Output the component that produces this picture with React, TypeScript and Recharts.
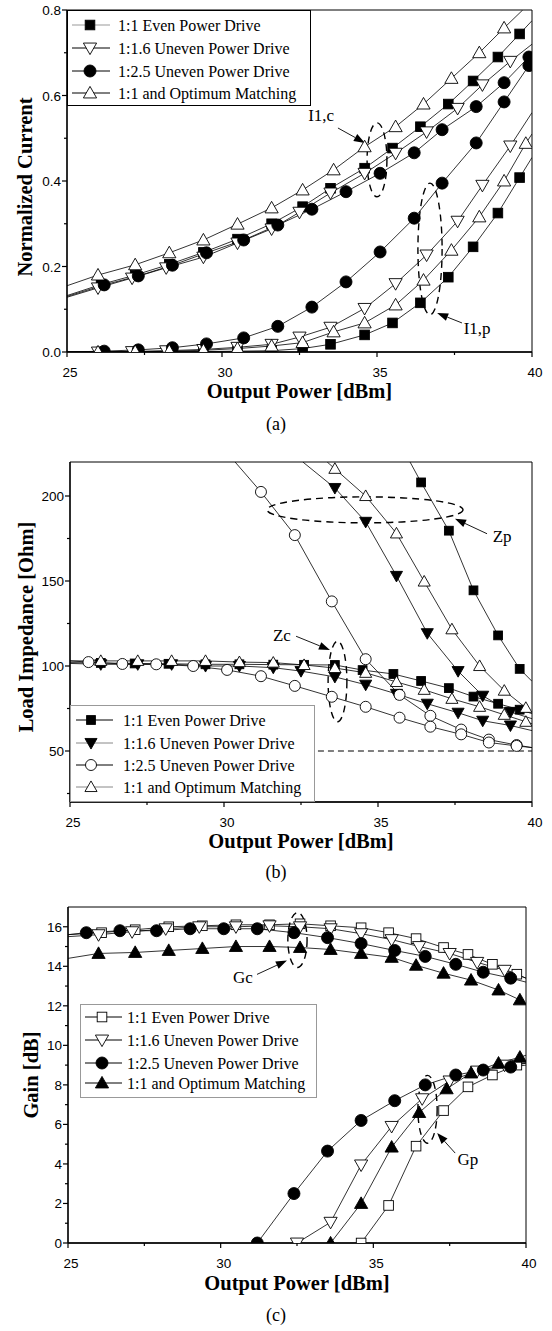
import React from 'react';
import { LineChart, Line, XAxis, YAxis, ReferenceArea, ReferenceLine, ReferenceDot } from 'recharts';

type Pt = [number, number, number?]; // third value 0 = line end, no marker
type Shape = 'square' | 'circle' | 'up' | 'down';

const SERIF = '"Liberation Serif", "Times New Roman", serif';
const SANS = '"Liberation Sans", Arial, sans-serif';

const seriesNames = [
  '1:1 Even Power Drive',
  '1:1.6 Uneven Power Drive',
  '1:2.5 Uneven Power Drive',
  '1:1 and Optimum Matching',
];

const xTicks = [25, 27.5, 30, 32.5, 35, 37.5, 40];

// ---- (a) normalized current, I1,c (upper) and I1,p (lower)
const aEvenC: Pt[] = [[25, 0.132, 0], [26.1, 0.158], [27.2, 0.18], [28.3, 0.205], [29.4, 0.233], [30.5, 0.264], [31.6, 0.3], [32.6, 0.34], [33.5, 0.383], [34.6, 0.43], [35.5, 0.477], [36.4, 0.527], [37.3, 0.58], [38.1, 0.634], [38.9, 0.69], [39.6, 0.744], [40, 0.775, 0]];
const aUn16C: Pt[] = [[25, 0.128, 0], [26.0, 0.15], [27.1, 0.173], [28.2, 0.197], [29.4, 0.222], [30.5, 0.255], [31.6, 0.288], [32.5, 0.327], [33.5, 0.372], [34.6, 0.418], [35.6, 0.465], [36.6, 0.515], [37.6, 0.57], [38.4, 0.625], [39.3, 0.68], [40, 0.72, 0]];
const aUn25C: Pt[] = [[25, 0.13, 0], [26.2, 0.157], [27.3, 0.178], [28.4, 0.203], [29.5, 0.232], [30.7, 0.262], [31.8, 0.297], [32.9, 0.334], [34.0, 0.375], [35.1, 0.418], [36.2, 0.466], [37.1, 0.52], [38.2, 0.574], [39.1, 0.63], [39.9, 0.69]];
const aOptC: Pt[] = [[25, 0.155, 0], [26.0, 0.18], [27.2, 0.204], [28.3, 0.232], [29.4, 0.262], [30.5, 0.299], [31.6, 0.337], [32.6, 0.379], [33.6, 0.426], [34.6, 0.48], [35.6, 0.527], [36.5, 0.58], [37.4, 0.64], [38.3, 0.7], [39.1, 0.758], [39.7, 0.8, 0]];
const aEvenP: Pt[] = [[25, 0, 0], [26.1, 0], [27.2, 0], [28.3, 0.001], [29.4, 0.001], [30.5, 0.002], [31.6, 0.003], [32.6, 0.008], [33.5, 0.018], [34.6, 0.04], [35.5, 0.068], [36.4, 0.115], [37.3, 0.175], [38.1, 0.246], [38.9, 0.325], [39.6, 0.408], [40, 0.455, 0]];
const aUn16P: Pt[] = [[25, 0, 0], [26.0, 0], [27.1, 0.001], [28.2, 0.003], [29.4, 0.006], [30.5, 0.011], [31.6, 0.018], [32.5, 0.035], [33.5, 0.058], [34.6, 0.102], [35.6, 0.16], [36.6, 0.227], [37.6, 0.306], [38.4, 0.39], [39.3, 0.482], [40, 0.56, 0]];
const aUn25P: Pt[] = [[25, 0, 0], [26.2, 0.002], [27.3, 0.005], [28.4, 0.01], [29.5, 0.019], [30.7, 0.033], [31.8, 0.06], [32.9, 0.105], [34.0, 0.164], [35.1, 0.234], [36.2, 0.313], [37.1, 0.395], [38.2, 0.489], [39.1, 0.585], [39.9, 0.67]];
const aOptP: Pt[] = [[25, 0, 0], [26.0, 0], [27.2, 0.001], [28.3, 0.002], [29.4, 0.004], [30.5, 0.008], [31.6, 0.014], [32.6, 0.022], [33.6, 0.047], [34.6, 0.068], [35.6, 0.11], [36.5, 0.168], [37.4, 0.238], [38.3, 0.316], [39.1, 0.4], [39.8, 0.488], [40, 0.51, 0]];

// ---- (b) load impedance, Zp (upper) and Zc (lower)
const bEvenP: Pt[] = [[36.04, 220, 0], [36.4, 208], [37.3, 179.6], [38.1, 144.5], [38.9, 118], [39.6, 98.3], [40, 91, 0]];
const bUn16P: Pt[] = [[32.56, 220, 0], [33.6, 204.7], [34.6, 184.8], [35.6, 153], [36.6, 119.3], [37.6, 97], [38.4, 82.5], [39.3, 73], [40, 69, 0]];
const bUn25P: Pt[] = [[30.36, 220, 0], [31.2, 202.4], [32.3, 177], [33.5, 138], [34.6, 104], [35.7, 83], [36.7, 70.7], [37.7, 62.6], [38.6, 56.7], [39.5, 53.5], [40, 52, 0]];
const bOptP: Pt[] = [[33.35, 220, 0], [33.6, 216], [34.6, 200], [35.6, 178], [36.5, 149.7], [37.4, 121.6], [38.3, 100], [39.1, 85.5], [39.8, 75.4], [40, 73, 0]];
const bEvenC: Pt[] = [[25, 102, 0], [26.0, 101.8], [27.1, 101.5], [28.2, 101.3], [29.4, 101], [30.5, 101], [31.6, 100.8], [32.6, 100.7], [33.6, 100.6], [34.5, 97.6], [35.5, 95.3], [36.4, 91.2], [37.3, 87], [38.1, 82], [38.9, 77.8], [39.6, 74.3], [40, 72, 0]];
const bUn16C: Pt[] = [[25, 101.5, 0], [26.0, 101], [27.2, 101], [28.3, 101], [29.4, 100], [30.5, 100], [31.6, 99], [32.5, 97], [33.6, 93.6], [34.6, 89], [35.6, 83.6], [36.6, 77.8], [37.6, 72.5], [38.4, 67.8], [39.3, 65], [40, 62, 0]];
const bUn25C: Pt[] = [[25, 103, 0], [25.6, 102.3], [26.7, 101.2], [27.8, 101], [29.0, 100], [30.1, 97.7], [31.2, 94], [32.3, 88.3], [33.5, 81.9], [34.6, 76], [35.7, 69.6], [36.7, 64.3], [37.7, 59.8], [38.6, 55], [39.5, 53], [40, 52, 0]];
const bOptC: Pt[] = [[25, 103, 0], [26.0, 103], [27.2, 103], [28.3, 103], [29.4, 103], [30.5, 102.3], [31.6, 102], [32.6, 100.6], [33.6, 98.8], [34.6, 96], [35.6, 90.6], [36.5, 86], [37.4, 80.7], [38.3, 76], [39.1, 71.3], [39.8, 67.2], [40, 66, 0]];

// ---- (c) gain, Gc (upper) and Gp (lower)
const cEvenC: Pt[] = [[25, 15.6, 0], [26.1, 15.7], [27.2, 15.85], [28.3, 16.0], [29.4, 16.05], [30.5, 16.1], [31.6, 16.1], [32.6, 16.15], [33.6, 16.05], [34.6, 15.95], [35.5, 15.7], [36.4, 15.4], [37.3, 14.95], [38.1, 14.6], [38.9, 14.1], [39.7, 13.6], [40, 13.4, 0]];
const cUn16C: Pt[] = [[25, 15.5, 0], [26.0, 15.6], [27.1, 15.75], [28.2, 15.9], [29.3, 16.0], [30.5, 16.0], [31.6, 16.05], [32.6, 16.0], [33.6, 15.9], [34.6, 15.65], [35.6, 15.35], [36.5, 15.0], [37.5, 14.65], [38.4, 14.2], [39.3, 13.8], [40, 13.4, 0]];
const cUn25C: Pt[] = [[25, 15.6, 0], [25.6, 15.7], [26.7, 15.8], [27.9, 15.8], [29.0, 15.9], [30.1, 15.9], [31.2, 15.9], [32.4, 15.7], [33.5, 15.45], [34.6, 15.15], [35.7, 14.8], [36.7, 14.5], [37.7, 14.1], [38.6, 13.7], [39.5, 13.4], [40, 13.2, 0]];
const cOptC: Pt[] = [[25, 14.4, 0], [26.0, 14.65], [27.2, 14.7], [28.3, 14.8], [29.4, 14.9], [30.5, 15.0], [31.6, 15.0], [32.6, 14.95], [33.6, 14.85], [34.6, 14.65], [35.6, 14.45], [36.4, 14.05], [37.3, 13.65], [38.2, 13.3], [39.1, 12.8], [39.8, 12.3], [40, 12.1, 0]];
const cEvenP: Pt[] = [[34.6, 0], [35.5, 1.9], [36.4, 4.9], [37.3, 6.7], [38.1, 7.9], [38.9, 8.5], [39.7, 9.0], [40, 9.1, 0]];
const cUn16P: Pt[] = [[32.5, 0], [33.6, 1.05], [34.6, 3.95], [35.6, 5.9], [36.6, 7.3], [37.5, 8.2], [38.4, 8.7], [39.3, 9.0], [40, 9.1, 0]];
const cUn25P: Pt[] = [[31.2, 0], [32.4, 2.5], [33.5, 4.65], [34.6, 6.2], [35.7, 7.2], [36.7, 8.0], [37.7, 8.5], [38.6, 8.75], [39.5, 8.9], [40, 9.0, 0]];
const cOptP: Pt[] = [[33.6, 0], [34.6, 2.0], [35.6, 4.85], [36.5, 6.6], [37.4, 7.8], [38.2, 8.6], [39.1, 9.1], [39.8, 9.4], [40, 9.5, 0]];

interface SeriesDef { shape: Shape; filled: boolean; curves: Pt[][]; legendLine: string }
interface PanelDef {
  top: number; height: number; plot: { top: number; bottom: number; left: number; right: number };
  yDomain: [number, number]; yTicks: number[]; yMajor: (v: number) => boolean; yFmt: (v: number) => string;
  yTitle: string; yTitleX: number; yTitleY: number; xTitleY: number; caption: string; captionY: number;
  size: number; series: SeriesDef[];
  legend: { left: number; top: number; width: number; height: number; rows: number[]; line: [number, number]; mark: number; text: number; border: string };
  ellipses: [number, number, number, number][];
  arrows: [number, number, number, number][];
  notes: [number, number, string][];
  dashed?: [number, number, number, number][];
}

const Marker = ({ shape, filled, x, y, s }: { shape: Shape; filled: boolean; x: number; y: number; s: number }) => {
  const fill = filled ? '#000' : '#fff';
  const common = { fill, stroke: '#000', strokeWidth: 0.9 };
  if (shape === 'square') return <rect x={x - s * 0.8} y={y - s * 0.8} width={s * 1.6} height={s * 1.6} {...common} />;
  if (shape === 'circle') return <circle cx={x} cy={y} r={s} {...common} />;
  const h = s * 1.1;
  if (shape === 'up') return <polygon points={`${x},${y - h} ${x - h},${y + h * 0.75} ${x + h},${y + h * 0.75}`} {...common} />;
  return <polygon points={`${x},${y + h} ${x - h},${y - h * 0.75} ${x + h},${y - h * 0.75}`} {...common} />;
};

const panels: PanelDef[] = [
  {
    top: 0, height: 450, plot: { top: 10, bottom: 352, left: 67, right: 532 },
    yDomain: [0, 0.8], yTicks: [0, 0.1, 0.2, 0.3, 0.4, 0.5, 0.6, 0.7, 0.8],
    yMajor: (v) => Math.round(v * 10) % 2 === 0, yFmt: (v) => v.toFixed(1),
    yTitle: 'Normalized Current', yTitleX: 25, yTitleY: 187, xTitleY: 391, caption: '(a)', captionY: 424,
    size: 6,
    series: [
      { shape: 'square', filled: true, curves: [aEvenC, aEvenP], legendLine: '#999' },
      { shape: 'down', filled: false, curves: [aUn16C, aUn16P], legendLine: '#000' },
      { shape: 'circle', filled: true, curves: [aUn25C, aUn25P], legendLine: '#000' },
      { shape: 'up', filled: false, curves: [aOptC, aOptP], legendLine: '#000' },
    ],
    legend: { left: 67, top: 10, width: 244, height: 96, rows: [15, 38, 61, 83], line: [5, 43], mark: 23, text: 51, border: '#000' },
    ellipses: [[34.68, 35.32, 0.363, 0.536], [36.32, 37.1, 0.087, 0.395]],
    arrows: [[33.74, 0.524, 34.61, 0.489], [37.74, 0.068, 36.94, 0.091]],
    notes: [[33.2, 0.554, 'I1,c'], [38.23, 0.056, 'I1,p']],
  },
  {
    top: 450, height: 450, plot: { top: 462, bottom: 802, left: 70, right: 532 },
    yDomain: [20, 220], yTicks: [25, 50, 75, 100, 125, 150, 175, 200],
    yMajor: (v) => v % 50 === 0, yFmt: (v) => String(v),
    yTitle: 'Load Impedance [Ohm]', yTitleX: 26, yTitleY: 627, xTitleY: 841, caption: '(b)', captionY: 872,
    size: 5.5,
    series: [
      { shape: 'square', filled: true, curves: [bEvenP, bEvenC], legendLine: '#000' },
      { shape: 'down', filled: true, curves: [bUn16P, bUn16C], legendLine: '#888' },
      { shape: 'circle', filled: false, curves: [bUn25P, bUn25C], legendLine: '#000' },
      { shape: 'up', filled: false, curves: [bOptP, bOptC], legendLine: '#888' },
    ],
    legend: { left: 70, top: 705, width: 245, height: 97, rows: [15, 38, 60, 82], line: [6, 43], mark: 21, text: 53, border: '#999' },
    ellipses: [[31.4, 37.76, 184.2, 199.5], [33.38, 33.99, 67.2, 114.6]],
    arrows: [[38.54, 177.8, 37.5, 186.6], [32.34, 117.5, 33.44, 109.4]],
    notes: [[39.03, 176, 'Zp'], [31.88, 118, 'Zc']],
    dashed: [[33.05, 50, 40, 50]],
  },
  {
    top: 900, height: 431, plot: { top: 907, bottom: 1243, left: 68, right: 526 },
    yDomain: [0, 17], yTicks: [0, 1, 2, 3, 4, 5, 6, 7, 8, 9, 10, 11, 12, 13, 14, 15, 16],
    yMajor: (v) => v % 2 === 0, yFmt: (v) => String(v),
    yTitle: 'Gain [dB]', yTitleX: 31, yTitleY: 1075, xTitleY: 1283, caption: '(c)', captionY: 1315,
    size: 6,
    series: [
      { shape: 'square', filled: false, curves: [cEvenC, cEvenP], legendLine: '#000' },
      { shape: 'down', filled: false, curves: [cUn16C, cUn16P], legendLine: '#000' },
      { shape: 'circle', filled: true, curves: [cUn25C, cUn25P], legendLine: '#000' },
      { shape: 'up', filled: true, curves: [cOptC, cOptP], legendLine: '#000' },
    ],
    legend: { left: 80, top: 1004, width: 237, height: 94, rows: [13, 36, 59, 79], line: [5, 42], mark: 22, text: 47, border: '#999' },
    ellipses: [[32.2, 32.83, 13.94, 16.72], [36.46, 37.09, 5.05, 8.48]],
    arrows: [[31.19, 13.59, 32.17, 14.29], [37.68, 4.55, 37.09, 5.56]],
    notes: [[30.73, 13.43, 'Gc'], [38.1, 4.24, 'Gp']],
  },
];

const arrowShape = (p: any) => {
  const { x1, y1, x2, y2 } = p;
  const a = Math.atan2(y2 - y1, x2 - x1);
  const L = 11, W = 4;
  const bx = x2 - L * Math.cos(a), by = y2 - L * Math.sin(a);
  const px = -Math.sin(a) * W, py = Math.cos(a) * W;
  return (
    <g>
      <line x1={x1} y1={y1} x2={bx} y2={by} stroke="#000" strokeWidth={0.9} />
      <polygon points={`${x2},${y2} ${bx + px},${by + py} ${bx - px},${by - py}`} fill="#000" />
    </g>
  );
};

const ellipseShape = (p: any) => (
  <ellipse cx={p.x + p.width / 2} cy={p.y + p.height / 2} rx={p.width / 2} ry={p.height / 2}
    fill="none" stroke="#000" strokeWidth={1.4} strokeDasharray="7 5" />
);

const Panel = ({ d }: { d: PanelDef }) => {
  const { plot } = d;
  const off = d.top;
  const xTick = (p: any) => {
    const v = p.payload.value;
    const major = v % 5 === 0;
    return (
      <g>
        <line x1={p.x} y1={p.y} x2={p.x} y2={p.y + (major ? 5 : 3)} stroke="#000" strokeWidth={1.2} />
        {major && <text x={p.x + 3} y={p.y + 25} textAnchor="middle" fontSize={13.5} fontFamily={SANS} fill="#000">{v}</text>}
      </g>
    );
  };
  const yTick = (p: any) => {
    const v = p.payload.value;
    const major = d.yMajor(v);
    return (
      <g>
        <line x1={p.x - (major ? 5 : 3)} y1={p.y} x2={p.x} y2={p.y} stroke="#000" strokeWidth={1.2} />
        {major && <text x={p.x - 6} y={p.y + 5} textAnchor="end" fontSize={13.5} fontFamily={SANS} fill="#000">{d.yFmt(v)}</text>}
      </g>
    );
  };
  const xTitle = () => (
    <g>
      <text x={(plot.left + plot.right) / 2} y={d.xTitleY - off} textAnchor="middle" dominantBaseline="central"
        fontSize={20.5} fontWeight="bold" fontFamily={SERIF} fill="#000">Output Power [dBm]</text>
      <text x={276} y={d.captionY - off} textAnchor="middle" dominantBaseline="central"
        fontSize={18} fontFamily={SERIF} fill="#000">{d.caption}</text>
    </g>
  );
  const yc = d.yTitleY - off;
  const yTitle = () => (
    <text x={d.yTitleX} y={yc} transform={`rotate(-90 ${d.yTitleX} ${yc})`} textAnchor="middle" dominantBaseline="central"
      fontSize={20.5} fontWeight="bold" fontFamily={SERIF} fill="#000">{d.yTitle}</text>
  );
  const dot = (s: SeriesDef) => (p: any) => {
    const { cx, cy, payload, index } = p;
    if (!payload || !payload.m || cx == null || cy == null) return <g key={`e${index}`} />;
    return <g key={`d${index}`}><Marker shape={s.shape} filled={s.filled} x={cx} y={cy} s={d.size} /></g>;
  };
  const lg = d.legend;
  return (
    <div style={{ position: 'absolute', left: 0, top: d.top, width: 552, height: d.height }}>
      <LineChart width={552} height={d.height}
        margin={{ top: plot.top - off, right: 552 - plot.right, left: 0, bottom: 0 }}>
        <XAxis type="number" dataKey="x" domain={[25, 40]} ticks={xTicks} interval={0} allowDataOverflow
          tickSize={0} tickMargin={0} tickLine={false} tick={xTick}
          axisLine={{ stroke: '#000', strokeWidth: 1.3 }} height={d.top + d.height - plot.bottom}
          label={{ content: xTitle }} />
        <YAxis type="number" domain={d.yDomain} ticks={d.yTicks} interval={0} allowDataOverflow
          tickSize={0} tickMargin={0} tickLine={false} tick={yTick}
          axisLine={{ stroke: '#000', strokeWidth: 1.3 }} width={plot.left}
          label={{ content: yTitle }} />
        <ReferenceArea x1={25} x2={40} y1={d.yDomain[0]} y2={d.yDomain[1]} fill="none" stroke="#000" strokeWidth={1} />
        {(d.dashed || []).map((s, i) => (
          <ReferenceLine key={`dl${i}`} segment={[{ x: s[0], y: s[1] }, { x: s[2], y: s[3] }]}
            stroke="#000" strokeWidth={1} strokeDasharray="6 4" />
        ))}
        {d.series.flatMap((s, si) => s.curves.map((c, ci) => (
          <Line key={`s${si}c${ci}`} data={c.map(([x, y, m]) => ({ x, y, m: m !== 0 }))} dataKey="y"
            type="linear" stroke="#000" strokeWidth={0.8} dot={dot(s)} activeDot={false}
            isAnimationActive={false} legendType="none" />
        )))}
        {d.ellipses.map((e, i) => (
          <ReferenceArea key={`el${i}`} x1={e[0]} x2={e[1]} y1={e[2]} y2={e[3]} shape={ellipseShape} />
        ))}
        {d.arrows.map((a, i) => (
          <ReferenceLine key={`ar${i}`} segment={[{ x: a[0], y: a[1] }, { x: a[2], y: a[3] }]} shape={arrowShape} />
        ))}
        {d.notes.map((n, i) => (
          <ReferenceDot key={`nt${i}`} x={n[0]} y={n[1]} r={0}
            shape={(p: any) => (
              <text x={p.cx} y={p.cy} textAnchor="middle" dominantBaseline="central" fontSize={17}
                fontFamily={SERIF} fill="#000">{n[2]}</text>
            )} />
        ))}
      </LineChart>
      <svg width={lg.width} height={lg.height}
        style={{ position: 'absolute', left: lg.left, top: lg.top - d.top, overflow: 'visible' }}>
        <rect x={0.5} y={0.5} width={lg.width - 1} height={lg.height - 1} fill="#fff" stroke={lg.border} strokeWidth={1} />
        {d.series.map((s, i) => (
          <g key={i}>
            <line x1={lg.line[0]} x2={lg.line[1]} y1={lg.rows[i]} y2={lg.rows[i]} stroke={s.legendLine} strokeWidth={1} />
            <Marker shape={s.shape} filled={s.filled} x={lg.mark} y={lg.rows[i]} s={d.size} />
            <text x={lg.text} y={lg.rows[i] + 5.5} fontSize={16} fontFamily={SERIF} fill="#000">{seriesNames[i]}</text>
          </g>
        ))}
      </svg>
    </div>
  );
};

export default function App() {
  return (
    <div style={{ position: 'absolute', left: 0, top: 0, width: 552, height: 1331, background: '#fff' }}>
      {panels.map((p, i) => <Panel key={i} d={p} />)}
    </div>
  );
}
